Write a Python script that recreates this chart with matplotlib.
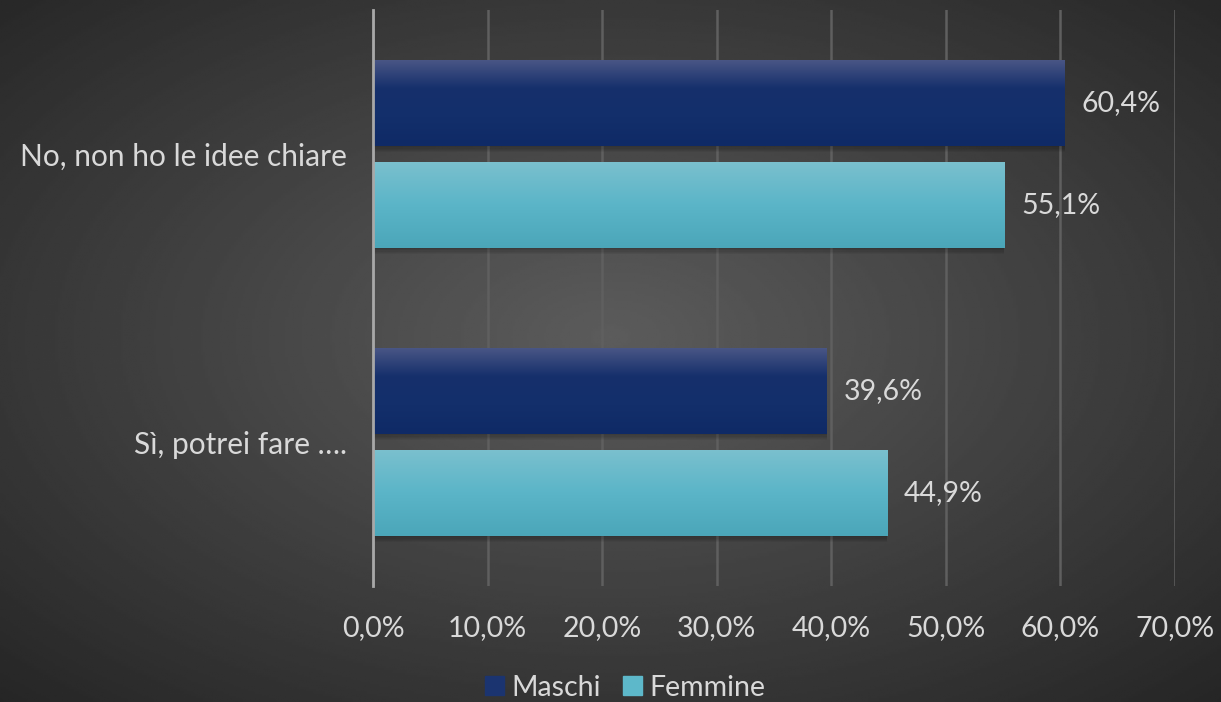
import numpy as np
import matplotlib.pyplot as plt
from matplotlib.colors import LinearSegmentedColormap
from matplotlib.patches import Patch

plt.rcParams['font.family'] = ['Lato', 'DejaVu Sans']

categories = ['Sì, potrei fare ….', 'No, non ho le idee chiare']
maschi = [39.6, 60.4]
femmine = [44.9, 55.1]
ticks = [0, 10, 20, 30, 40, 50, 60, 70]

txt = '#d9d9d9'

fig = plt.figure(figsize=(12.21, 7.02), dpi=100)

# radial grey background over the whole figure
bg = fig.add_axes([0, 0, 1, 1], zorder=-10)
yy, xx = np.mgrid[0:1:300j, 0:1:520j]
r = np.sqrt(((xx - 0.5) / 0.75) ** 2 + ((yy - 0.52) / 0.75) ** 2)
bg.imshow(0.36 - 0.22 * np.clip(r, 0, 1), cmap='gray', vmin=0, vmax=1,
          extent=[0, 1, 0, 1], aspect='auto', origin='lower')
bg.axis('off')

ax = fig.add_axes([0.3055, 0.1652, 0.6568, 0.8206])
ax.patch.set_alpha(0)

y = np.arange(len(categories))
h = 0.3
off = 0.177

cm_m = LinearSegmentedColormap.from_list('m', ['#0f2a66', '#132f6b', '#16306c', '#4b5786'])
cm_f = LinearSegmentedColormap.from_list('f', ['#4ba6b9', '#5bb5c8', '#7bc0ce'])

def grad_bars(ypos, vals, cmap):
    bars = ax.barh(ypos, vals, height=h, color='none', zorder=3)
    grad = np.linspace(0, 1, 256).reshape(-1, 1)
    for b in bars:
        x0, y0 = b.get_x(), b.get_y()
        w, hh = b.get_width(), b.get_height()
        # soft shadow under each bar
        for k in range(6):
            ax.barh(y0 - 0.004 * k, w, height=0.03, left=x0, align='edge',
                    color='black', alpha=0.05, zorder=2, linewidth=0)
        im = ax.imshow(grad, cmap=cmap, extent=[x0, x0 + w, y0, y0 + hh],
                       aspect='auto', origin='lower', zorder=3)
        im.set_clip_path(b)
    return bars

bm = grad_bars(y + off, maschi, cm_m)
bf = grad_bars(y - off, femmine, cm_f)

for bars, vals in ((bm, maschi), (bf, femmine)):
    for b, v in zip(bars, vals):
        ax.annotate(f'{v:.1f}%'.replace('.', ','),
                    (v, b.get_y() + b.get_height() / 2),
                    xytext=(12, 0), textcoords='offset points',
                    va='center', ha='left', color=txt, fontsize=20.5)

ax.set_xlim(0, 70)
ax.set_ylim(-0.5, 1.5)
ax.set_xticks(ticks)
ax.set_xticklabels([f'{t:.1f}%'.replace('.', ',') for t in ticks],
                   color=txt, fontsize=20.5)
ax.set_yticks(y)
ax.set_yticklabels(categories, color=txt, fontsize=21.5)
ax.tick_params(length=0)
ax.tick_params(axis='x', pad=21)
ax.tick_params(axis='y', pad=19)
ax.xaxis.grid(True, color='#5f5f5f', linewidth=1.8, zorder=0)
ax.set_axisbelow(True)
for s in ['top', 'right', 'bottom']:
    ax.spines[s].set_visible(False)
ax.spines['left'].set_color('#a8a8a8')
ax.spines['left'].set_linewidth(2)
ax.spines['left'].set_zorder(4)

handles = [Patch(color='#1b3470', label='Maschi'), Patch(color='#5db8ca', label='Femmine')]
fig.legend(handles=handles, loc='lower center', bbox_to_anchor=(0.512, -0.035),
           ncol=2, frameon=False, fontsize=20.5, labelcolor=txt,
           handlelength=0.65, handleheight=0.65, handletextpad=0.25, columnspacing=0.8)

fig.savefig('out.png', dpi=100)
